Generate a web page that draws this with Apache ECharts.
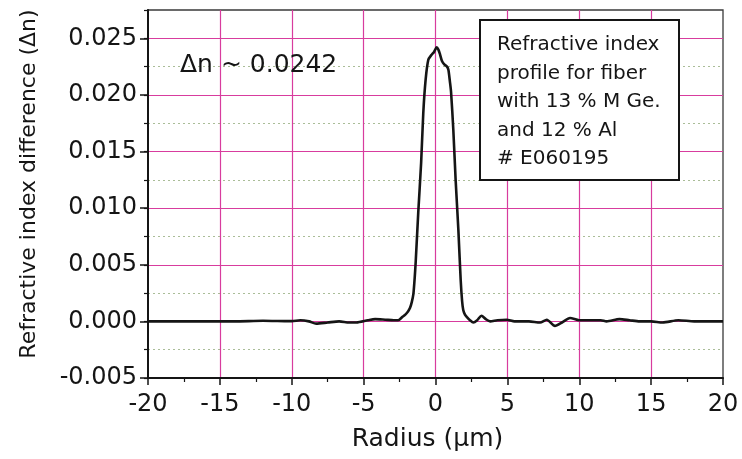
<!DOCTYPE html>
<html>
<head>
<meta charset="utf-8">
<script src="https://cdn.jsdelivr.net/npm/echarts@6/dist/echarts.min.js"></script>
<style>
  html, body { margin: 0; padding: 0; background: #ffffff; }
  #chart { width: 742px; height: 459px; }
</style>
</head>
<body>
<div id="chart"></div>
<script>
// Radial refractive index profile of the fiber preform
const radius = [
  -20, -17, -14, -12, -11, -10, -9.4, -8.8, -8.3, -7.5, -6.7, -6.0, -5.5, -4.7, -4.2, -3.5, -2.9,
  -2.6, -2.3, -2.1, -1.9, -1.77, -1.65, -1.54, -1.45, -1.38, -1.2, -1.0, -0.85, -0.69, -0.5,
  -0.27, -0.1, 0.08, 0.2, 0.31, 0.45, 0.61, 0.8, 0.9, 1.0, 1.08, 1.24, 1.4, 1.59, 1.75, 1.85,
  1.93, 2.05, 2.17, 2.4, 2.63, 2.9, 3.2, 3.5, 3.8, 4.3, 4.95, 5.5, 6.5, 7.27, 7.74, 8.31, 8.8,
  9.36, 10.0, 10.75, 11.5, 11.9, 12.8, 13.5, 14.2, 15.0, 15.8, 16.9, 18, 20
];
const dn = [
  0, 0, 0, 0.00005, 0.00003, 0.00002, 0.0001, 0, -0.0002, -0.0001, 0, -0.0001, -0.0001, 0.0001, 0.0002, 0.00015, 0.0001,
  0.0001, 0.0004, 0.0006, 0.0009, 0.0012, 0.0017, 0.0024, 0.0038, 0.0052, 0.0096, 0.0140, 0.0184, 0.0213, 0.0231,
  0.02355, 0.0238, 0.0242, 0.0240, 0.0236, 0.0230, 0.0227, 0.0225, 0.0222, 0.0212, 0.0203, 0.0169, 0.0125, 0.0081, 0.0037, 0.0018,
  0.0010, 0.0006, 0.0004, 0.0001, -0.0001, 0.0001, 0.0005, 0.0002, 0, 0.0001, 0.00015, 0, 0, -0.0001, 0.00015, -0.0004, -0.0001,
  0.0003, 0.0001, 0.0001, 0.0001, 0, 0.0002, 0.0001, 0, 0, -0.0001, 0.0001, 0, 0
];
const xTicks = [-20, -15, -10, -5, 0, 5, 10, 15, 20];
const yTicks = [-0.005, 0.000, 0.005, 0.010, 0.015, 0.020, 0.025];
const yTop = 0.0275;
const noteLines = [
  'Refractive index',
  'profile for fiber',
  'with 13 % M Ge.',
  'and 12 % Al',
  '# E060195'
];

const FONT = '"DejaVu Sans", "Liberation Sans", Arial, sans-serif';
const INK = '#151515';
const GRID_PINK = '#d83c9e';
const DOT = '#aabd98';

const peak = Math.max(...dn);
const majorStep = yTicks[1] - yTicks[0];

const chart = echarts.init(document.getElementById('chart'), null, { renderer: 'canvas' });

const option = {
  backgroundColor: '#ffffff',
  animation: false,
  grid: {
    left: 148, right: 19, top: 10, bottom: 81,
    show: true, borderColor: '#3a3a3a', borderWidth: 1.3,
    backgroundColor: '#ffffff',
    containLabel: false, outerBoundsMode: 'none'
  },
  xAxis: {
    type: 'value',
    min: xTicks[0], max: xTicks[xTicks.length - 1],
    interval: xTicks[1] - xTicks[0],
    name: 'Radius (\u03bcm)',
    nameLocation: 'middle',
    nameGap: 49,
    nameTextStyle: { fontFamily: FONT, fontSize: 25, color: INK, padding: [0, 16, 0, 0] },
    axisLine: { show: true, onZero: false, lineStyle: { color: INK, width: 2 } },
    axisTick: { show: true, inside: false, length: 7, lineStyle: { color: INK, width: 1.5 } },
    minorTick: { show: true, splitNumber: 2, length: 4, lineStyle: { color: INK, width: 1.2 } },
    axisLabel: { fontFamily: FONT, fontSize: 24, color: INK, margin: 15 },
    splitLine: {
      show: true, showMinLine: false, showMaxLine: false,
      lineStyle: { color: GRID_PINK, width: 1.2 }
    }
  },
  yAxis: [
    {
      // major ticks, labels and pink grid
      type: 'value',
      min: yTicks[0], max: yTop,
      interval: majorStep,
      position: 'left',
      name: 'Refractive index difference (\u0394n)',
      nameLocation: 'middle',
      nameRotate: 90,
      nameGap: 108,
      nameTextStyle: { fontFamily: FONT, fontSize: 22, color: INK, padding: [0, 0, 0, 20] },
      axisLine: { show: true, onZero: false, lineStyle: { color: INK, width: 2 } },
      axisTick: { show: true, inside: false, length: 8, lineStyle: { color: INK, width: 1.5 } },
      axisLabel: {
        fontFamily: FONT, fontSize: 24, color: INK, margin: 11,
        showMaxLabel: false,
        formatter: v => v.toFixed(3)
      },
      splitLine: {
        show: true, showMinLine: false, showMaxLine: false,
        lineStyle: { color: GRID_PINK, width: 1.2 }
      }
    },
    {
      // half-step ticks and dotted guide lines between the major levels
      type: 'value',
      min: yTicks[0], max: yTop,
      interval: majorStep / 2,
      position: 'left',
      axisLine: { show: false, onZero: false },
      axisTick: { show: true, inside: false, length: 4, lineStyle: { color: INK, width: 1.2 } },
      axisLabel: { show: false },
      splitLine: {
        show: true, showMinLine: false, showMaxLine: false,
        lineStyle: { color: [DOT, 'rgba(0,0,0,0)'], width: 1, type: [2, 3] }
      }
    }
  ],
  series: [
    {
      type: 'line',
      yAxisIndex: 0,
      data: radius.map((r, i) => [r, dn[i]]),
      showSymbol: false,
      smooth: 0.25,
      lineStyle: { color: INK, width: 2.6 },
      z: 5
    }
  ],
  graphic: [
    {
      type: 'text',
      left: 180, top: 53,
      z: 20,
      style: {
        text: '\u0394n ~ ' + peak.toFixed(4),
        font: '25px ' + FONT,
        fill: INK
      }
    },
    {
      type: 'rect',
      x: 480, y: 20, z: 20,
      shape: { x: 0, y: 0, width: 199, height: 160 },
      style: { fill: '#ffffff', stroke: INK, lineWidth: 2 }
    },
    {
      type: 'text',
      x: 497, y: 31, z: 21,
      style: {
        text: noteLines.join('\n'),
        font: '20px ' + FONT,
        lineHeight: 28.5,
        fill: INK
      }
    }
  ]
};

chart.setOption(option);
</script>
</body>
</html>
